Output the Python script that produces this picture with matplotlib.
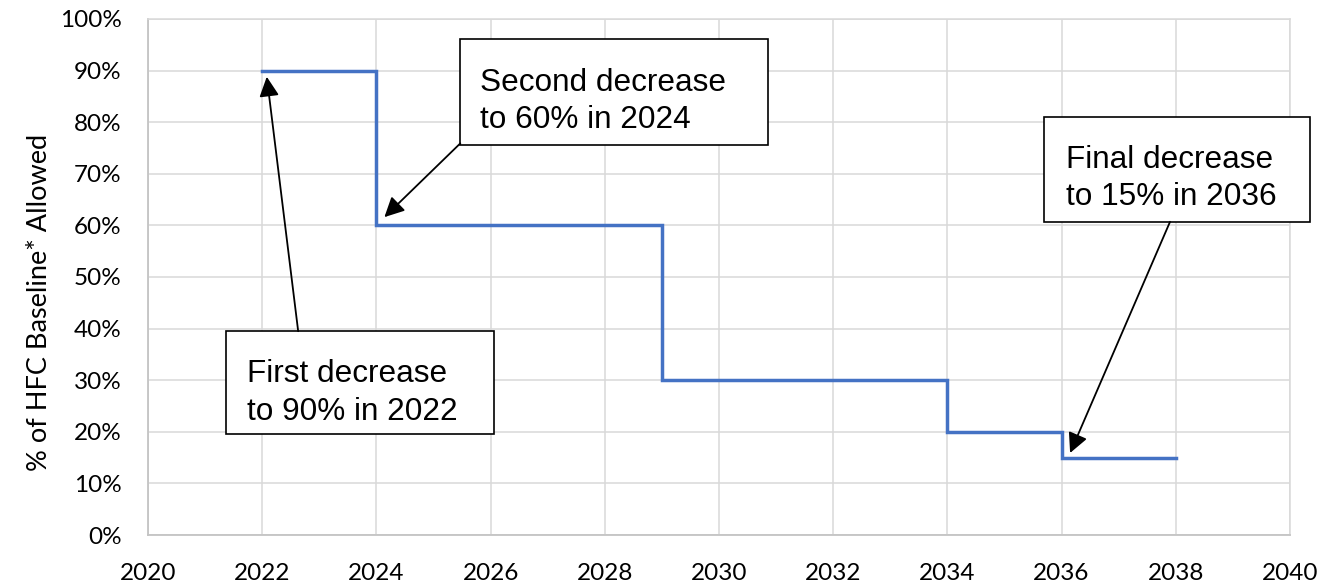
import matplotlib
matplotlib.use("Agg")
import matplotlib.pyplot as plt
from matplotlib.patches import Rectangle

# Datos: porcentaje permitido de la línea base de HFC
years = [2022, 2024, 2029, 2034, 2036, 2038]
allowed = [90, 60, 30, 20, 15, 15]

x_ticks = [2020, 2022, 2024, 2026, 2028, 2030, 2032, 2034, 2036, 2038, 2040]
y_ticks = [0, 10, 20, 30, 40, 50, 60, 70, 80, 90, 100]
y_labels = [f"{v}%" for v in y_ticks]

# Cuadros de anotación: (texto, caja x0, x1, y0, y1, texto x, líneas base, inicio flecha, punta flecha)
notes = [
    (["First decrease", "to 90% in 2022"], (2021.37, 2026.06, 19.6, 39.5), 2021.73, (29.7, 22.3),
     (2022.63, 39.5), (2022.08, 88.8)),
    (["Second decrease", "to 60% in 2024"], (2025.47, 2030.86, 75.6, 96.1), 2025.81, (86.0, 78.9),
     (2025.47, 75.9), (2024.14, 61.6)),
    (["Final decrease", "to 15% in 2036"], (2035.70, 2040.36, 60.7, 81.0), 2036.07, (71.1, 64.0),
     (2037.90, 60.7), (2036.15, 15.9)),
]

fig = plt.figure(figsize=(13.37, 5.84), dpi=100)
ax = fig.add_axes([0.1107, 0.0839, 0.8541, 0.8836])

ax.step(years, allowed, where='post', color='#4472C4', lw=2.5,
        solid_joinstyle='miter', zorder=3)

ax.set_xlim(2020, 2040)
ax.set_ylim(0, 100)
ax.set_xticks(x_ticks)
ax.set_yticks(y_ticks)
ax.set_yticklabels(y_labels)
ax.grid(True, color='#D9D9D9', lw=1.1, zorder=0)
ax.set_axisbelow(True)
for side in ['top', 'right']:
    ax.spines[side].set_color('#D9D9D9')
    ax.spines[side].set_linewidth(1.1)
for side in ['left', 'bottom']:
    ax.spines[side].set_color('#C4C4C4')
    ax.spines[side].set_linewidth(1.3)

ax.tick_params(axis='both', length=0, labelsize=17.5)
ax.tick_params(axis='y', pad=19)
ax.tick_params(axis='x', pad=20)
for lbl in ax.get_xticklabels() + ax.get_yticklabels():
    lbl.set_family('Lato')
ax.set_ylabel('% of HFC Baseline* Allowed', fontsize=19.5, family='Lato')
ax.yaxis.set_label_coords(-0.084, 0.45)

for lines, (x0, x1, y0, y1), tx, bases, start, tip in notes:
    ax.add_patch(Rectangle((x0, y0), x1 - x0, y1 - y0, facecolor='white',
                           edgecolor='black', lw=1.2, clip_on=False, zorder=5))
    for line, base in zip(lines, bases):
        ax.text(tx, base, line, fontsize=22.7, family='Liberation Sans',
                ha='left', va='baseline', zorder=6, clip_on=False)
    ax.annotate('', xy=tip, xytext=start, zorder=6,
                arrowprops=dict(arrowstyle='-|>', mutation_scale=30, lw=1.3,
                                color='black', shrinkA=0, shrinkB=0))

fig.savefig('out.png', dpi=100)
